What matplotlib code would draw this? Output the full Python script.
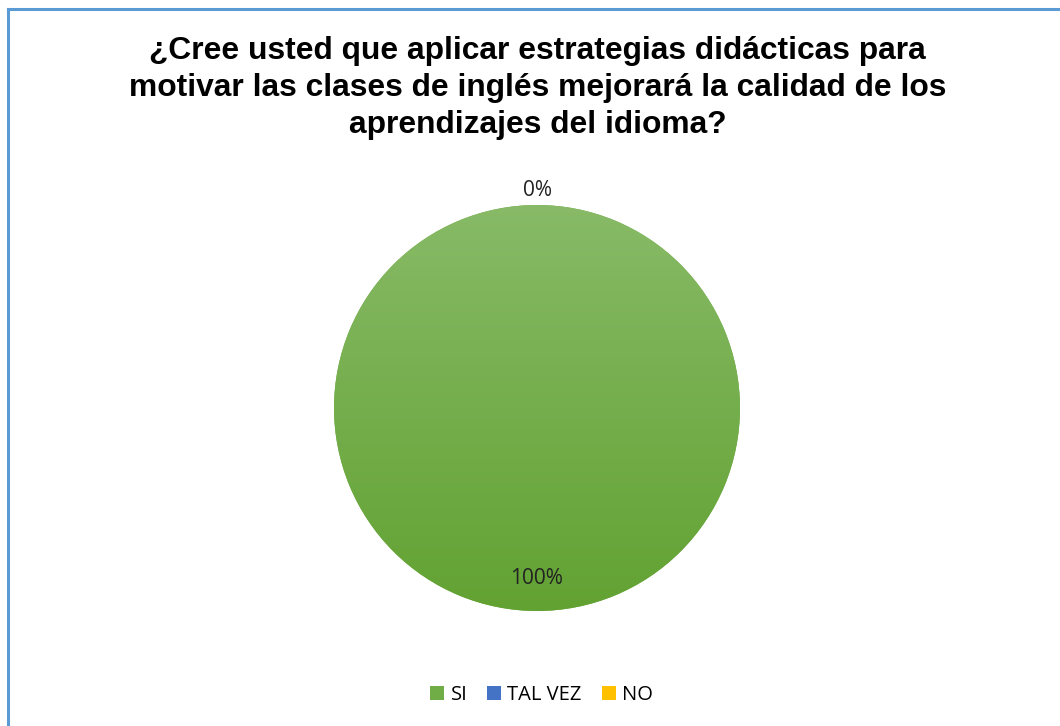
import numpy as np
import matplotlib.pyplot as plt
from matplotlib.colors import LinearSegmentedColormap
from matplotlib.lines import Line2D
from matplotlib.patches import Patch

titulo = ('¿Cree usted que aplicar estrategias didácticas para\n'
          'motivar las clases de inglés mejorará la calidad de los\n'
          'aprendizajes del idioma?')
categorias = ['SI', 'TAL VEZ', 'NO']
valores = [100, 0, 0]
colores = ['#70AD47', '#4472C4', '#FFC000']
etiquetas = ['100%', '0%', '0%']

fig = plt.figure(figsize=(10.6, 7.26), dpi=100)

# blue frame (only top and left edges fall inside the picture)
fig.add_artist(Line2D([8 / 1060, 1.01], [1 - 9 / 726, 1 - 9 / 726],
                      transform=fig.transFigure, color='#5B9BD5', lw=2.2))
fig.add_artist(Line2D([8 / 1060, 8 / 1060], [-0.01, 1 - 9 / 726],
                      transform=fig.transFigure, color='#5B9BD5', lw=2.2))

fig.text(0.507, 1 - 88 / 726, titulo, ha='center', va='center', fontsize=22.9,
         fontweight='bold', family='Liberation Sans', linespacing=1.3)

ax = fig.add_axes([(537 - 203) / 1060, (726 - 408 - 203) / 726, 406 / 1060, 406 / 726])
wedges, _ = ax.pie(valores, colors=colores, startangle=90, counterclock=False,
                   radius=1, wedgeprops=dict(linewidth=0))

# green gradient, lighter at the top
cmap = LinearSegmentedColormap.from_list('g', ['#62A232', '#88BA67'])
grad = np.linspace(0, 1, 256).reshape(-1, 1)
for w, c in zip(wedges, colores):
    if w.theta2 - w.theta1 > 0 and c == '#70AD47':
        im = ax.imshow(grad, cmap=cmap, origin='lower', extent=[-1, 1, -1, 1],
                       aspect='auto', zorder=w.get_zorder() + 0.1)
        im.set_clip_path(w)

# percentage labels (only one '0%' shows in the original, the others overlap)
shown = set()
for w, lab, v in zip(wedges, etiquetas, valores):
    ang = np.deg2rad((w.theta1 + w.theta2) / 2)
    d = 0.84 if v > 0 else 1.07
    pos = (round(d * np.cos(ang), 3), round(d * np.sin(ang), 3))
    if pos in shown:
        continue
    shown.add(pos)
    ax.text(pos[0], pos[1], lab, ha='center', va='center', fontsize=15,
            family='Open Sans', color='#222222')

ax.set_xlim(-1, 1)
ax.set_ylim(-1, 1)
ax.axis('off')

handles = [Patch(facecolor=c, edgecolor='none') for c in colores]
fig.legend(handles, categorias, loc='center', bbox_to_anchor=(0.511, 1 - 695 / 726),
           ncol=3, frameon=False, handlelength=0.7, handleheight=0.7,
           handletextpad=0.3, columnspacing=1.0,
           prop={'family': 'Open Sans', 'size': 14.5})

fig.savefig('out.png', dpi=100)
